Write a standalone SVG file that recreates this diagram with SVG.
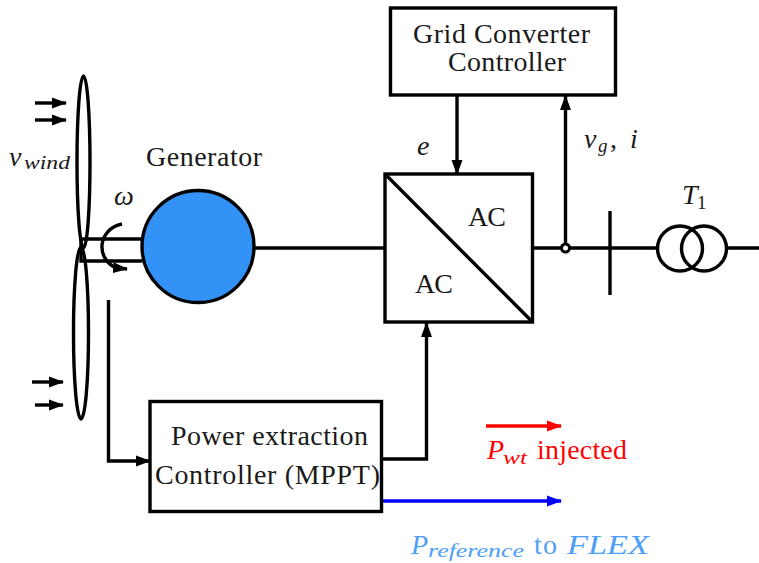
<svg xmlns="http://www.w3.org/2000/svg" width="759" height="563" viewBox="0 0 759 563">
<style>
.l{fill:none;stroke:#000;stroke-width:3.4}
.b{fill:#fff;stroke:#000;stroke-width:3.4}
.t{font-family:"Liberation Serif",serif;font-size:28px;fill:#1a1a1a}
.i{font-style:italic}
.s{font-size:19px}
.red{fill:#f00}
.sky{fill:#4da0f5}
</style>
<defs>
<marker id="a" markerUnits="userSpaceOnUse" markerWidth="15" markerHeight="12" refX="14" refY="6" orient="auto"><path d="M0 0.500L15 6L0 11.500z" fill="#000"/></marker>
<marker id="r" markerUnits="userSpaceOnUse" markerWidth="15" markerHeight="12" refX="14" refY="6" orient="auto"><path d="M0 0.500L15 6L0 11.500z" fill="#f00"/></marker>
<marker id="u" markerUnits="userSpaceOnUse" markerWidth="15" markerHeight="12" refX="14" refY="6" orient="auto"><path d="M0 0.500L15 6L0 11.500z" fill="#00f"/></marker>
</defs>
<g id="connectors">
<path class="l" d="M254 248H386"/>
<path class="l" d="M532 248H657M727 248H759"/>
<path class="l" d="M457 95V174" marker-end="url(#a)"/>
<path class="l" d="M565.500 245V96" marker-end="url(#a)"/>
<path class="l" d="M108.500 300V461H150" marker-end="url(#a)"/>
<path class="l" d="M381 459H426.500V323" marker-end="url(#a)"/>
<path d="M486 426H561" fill="none" stroke="#f00" stroke-width="3.400" marker-end="url(#r)"/>
<path d="M381 501H561" fill="none" stroke="#00f" stroke-width="3.400" marker-end="url(#u)"/>
<path class="l" d="M35 103H66" marker-end="url(#a)"/>
<path class="l" d="M35 120H66" marker-end="url(#a)"/>
<path class="l" d="M32 382H63" marker-end="url(#a)"/>
<path class="l" d="M35 405H63" marker-end="url(#a)"/>
<path class="l" d="M122 224C98 229 95 258 116 268L127 269" marker-end="url(#a)"/>
</g>
<g id="turbine">
<ellipse class="l" cx="83.500" cy="162" rx="6.500" ry="86"/>
<ellipse class="l" cx="81" cy="333" rx="7.500" ry="86"/>
<path class="l" d="M142 239H81V261H142"/>
<text class="t i" x="9" y="166">v</text>
<text class="t i s" x="24" y="166" dy="3" textLength="46" lengthAdjust="spacingAndGlyphs">wind</text>
<text class="t i" x="114" y="205">ω</text>
</g>
<g id="generator">
<circle cx="198" cy="246.500" r="56" fill="#3392f5" stroke="#000" stroke-width="3.400"/>
<text class="t" x="146" y="166" textLength="116" lengthAdjust="spacing">Generator</text>
</g>
<g id="grid-converter-controller">
<rect class="b" x="390.500" y="8" width="225" height="87"/>
<text class="t" x="413" y="43" textLength="177" lengthAdjust="spacing">Grid Converter</text>
<text class="t" x="448" y="71" textLength="118" lengthAdjust="spacing">Controller</text>
</g>
<g id="converter">
<rect class="b" x="385" y="174" width="147.500" height="148"/>
<path class="l" d="M385 174L532.500 322"/>
<text class="t" x="468" y="226" textLength="38">AC</text>
<text class="t" x="415" y="293" textLength="38">AC</text>
<text class="t i" x="417" y="155">e</text>
</g>
<g id="measurement">
<circle cx="565.500" cy="248" r="4" fill="#fff" stroke="#000" stroke-width="3"/>
<text class="t i" x="584" y="148">v</text>
<text class="t i s" x="598" y="152">g</text>
<text class="t" x="610" y="148">,</text>
<text class="t i" x="630" y="148">i</text>
</g>
<g id="bus"><path class="l" d="M610 211V295"/></g>
<g id="transformer">
<circle class="l" cx="680" cy="248.500" r="22.500"/>
<circle class="l" cx="704" cy="248.500" r="22.500"/>
<text class="t i" x="682" y="204">T</text>
<text class="t s" x="697" y="209">1</text>
</g>
<g id="mppt-controller">
<rect class="b" x="150" y="401.500" width="231.500" height="110"/>
<text class="t" x="171" y="445" textLength="197" lengthAdjust="spacing">Power extraction</text>
<text class="t" x="155" y="484" textLength="225" lengthAdjust="spacing">Controller (MPPT)</text>
</g>
<g id="labels">
<text class="t i red" x="487" y="459">P</text>
<text class="t i s red" x="503" y="464" textLength="24" lengthAdjust="spacingAndGlyphs">wt</text>
<text class="t red" x="537" y="459" textLength="90" lengthAdjust="spacing">injected</text>
<text class="t i sky" x="411" y="554">P</text>
<text class="t i s sky" x="428" y="557" textLength="96" lengthAdjust="spacingAndGlyphs">reference</text>
<text class="t sky" x="534" y="554" textLength="23">to</text>
<text class="t i sky" x="567" y="554" textLength="82" lengthAdjust="spacingAndGlyphs">FLEX</text>
</g>
</svg>
